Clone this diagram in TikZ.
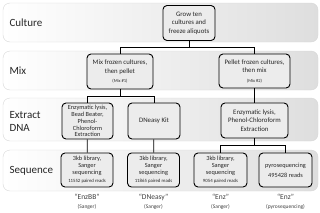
\documentclass[tikz,border=0pt]{standalone}
\usepackage{fontspec}
\setmainfont{Carlito}
\usepackage{xcolor}
\usepackage{tikz}
\definecolor{bandedge}{RGB}{215,215,215}
\definecolor{bandright}{RGB}{222,222,222}
\definecolor{boxfill}{RGB}{236,236,236}

\begin{document}
\begin{tikzpicture}[
  x=1pt, y=-1pt,
  band/.style={rectangle, rounded corners=7pt, draw=bandedge, left color=white, right color=bandright, minimum width=315pt, inner sep=0pt},
  lane/.style={anchor=west, align=left, font=\fontsize{11}{13}\selectfont, text=black!85},
  stepbox/.style={rectangle, rounded corners=4pt, draw=black, line width=0.9pt, fill=boxfill, align=center, inner sep=1pt, font=\fontsize{6.8}{8.5}\selectfont, text=black!85},
  dense/.style={font=\fontsize{6.3}{6.9}\selectfont},
  link/.style={line width=0.8pt},
  runname/.style={align=center, font=\fontsize{7.5}{9}\selectfont, text=black!75}
]
\useasboundingbox (0,0) rectangle (320,212);

% rows
\node[band, minimum height=39pt] (bcult) at (160.5,22.5) {};
\node[band, minimum height=39pt] (bmix) at (160.5,70.5) {};
\node[band, minimum height=43pt] (bext) at (160.5,119.5) {};
\node[band, minimum height=41pt] (bseq) at (160.5,170.5) {};
\node[lane] (lcult) at (6,22.5) {Culture};
\node[lane] (lmix) at (6,71) {Mix};
\node[lane] (lext) at (6,121) {Extract\\DNA};
\node[lane] (lseq) at (6,171) {Sequence};

% steps
\node[stepbox, minimum width=52pt, minimum height=35pt] (grow) at (189,23) {Grow ten\\cultures and\\freeze aliquots};
\node[stepbox, minimum width=66pt, minimum height=35pt] (mixa) at (120,71.5) {Mix frozen cultures,\\then pellet\\[1pt]\fontsize{4.5}{6}\selectfont(Mix \#1)};
\node[stepbox, minimum width=71pt, minimum height=34pt] (mixb) at (254.5,71) {Pellet frozen cultures,\\then mix\\[1pt]\fontsize{4.5}{6}\selectfont(Mix \#2)};
\node[stepbox, dense, minimum width=51pt, minimum height=36pt] (xbb) at (87.5,121) {Enzymatic lysis,\\Bead Beater,\\Phenol-\\Chloroform\\Extraction};
\node[stepbox, minimum width=52pt, minimum height=36pt] (xdn) at (154,121) {DNeasy Kit};
\node[stepbox, minimum width=67pt, minimum height=35pt] (xenz) at (254.5,120.5) {Enzymatic lysis,\\Phenol-Chloroform\\Extraction};
\node[stepbox, dense, minimum width=52pt, minimum height=34pt] (sbb) at (87,170) {3kb library,\\Sanger\\sequencing\\[1.5pt]\fontsize{4.8}{6}\selectfont 11552 paired reads};
\node[stepbox, dense, minimum width=52pt, minimum height=34pt] (sdn) at (153.5,170) {3kb library,\\Sanger\\sequencing\\[1.5pt]\fontsize{4.8}{6}\selectfont 11865 paired reads};
\node[stepbox, dense, minimum width=53pt, minimum height=34pt] (senz) at (220.5,170) {3kb library,\\Sanger\\sequencing\\[1.5pt]\fontsize{4.8}{6}\selectfont 9054 paired reads};
\node[stepbox, dense, minimum width=53pt, minimum height=34pt] (spyro) at (285.5,170) {pyrosequencing\\[3pt]495428 reads};

% run names
\node[runname] (nbb) at (87,202) {``EnzBB''\\{\fontsize{5.5}{7}\selectfont(Sanger)}};
\node[runname] (ndn) at (153.5,202) {``DNeasy''\\{\fontsize{5.5}{7}\selectfont(Sanger)}};
\node[runname] (nenz) at (220.5,202) {``Enz''\\{\fontsize{5.5}{7}\selectfont(Sanger)}};
\node[runname] (npyro) at (285.5,202) {``Enz''\\{\fontsize{5.5}{7}\selectfont(pyrosequencing)}};

% links
\draw[link] (grow.south) -- ++(0,6) -| (mixa.north);
\draw[link] (grow.south) -- ++(0,6) -| (mixb.north);
\draw[link] (mixa.south) -- ++(0,7) -| (xbb.north);
\draw[link] (mixa.south) -- ++(0,7) -| (xdn.north);
\draw[link] (mixb) -- (xenz);
\draw[link] (xbb) -- (sbb);
\draw[link] (xdn) -- (sdn);
\draw[link] (xenz.south) -- ++(0,7) -| (senz.north);
\draw[link] (xenz.south) -- ++(0,7) -| (spyro.north);
\end{tikzpicture}
\end{document}
